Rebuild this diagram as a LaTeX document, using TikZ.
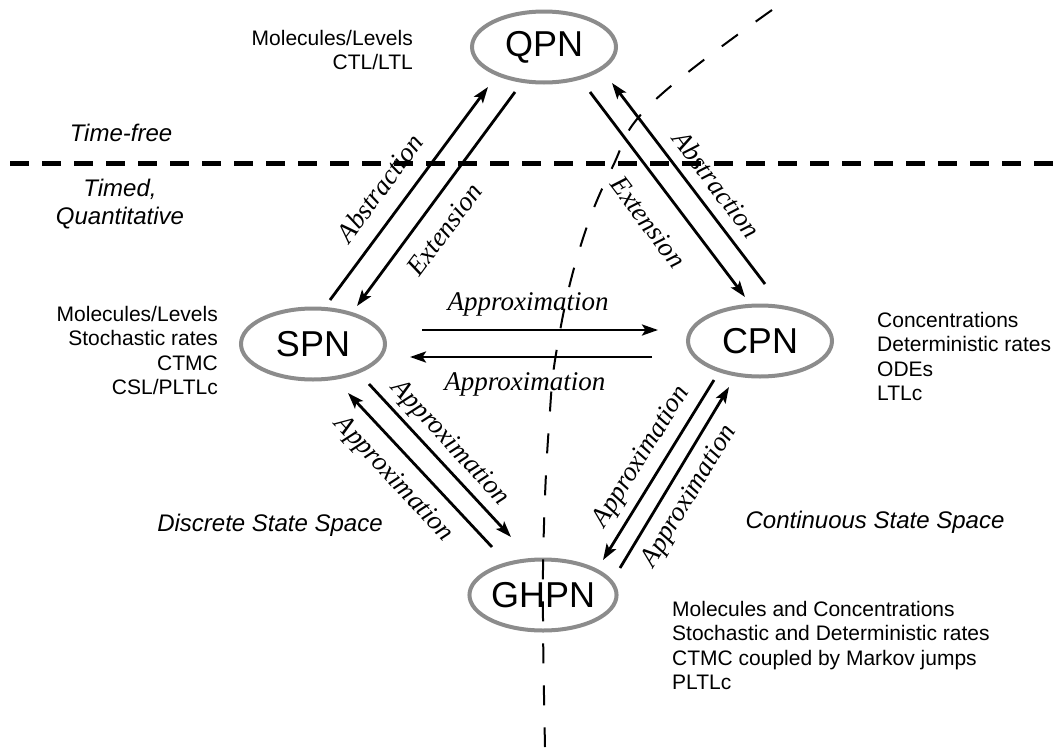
\documentclass[tikz,border=0pt]{standalone}
\usepackage{fontspec}
\setmainfont{Liberation Serif}
\setsansfont{Liberation Sans}
\usetikzlibrary{arrows.meta,shapes.geometric}
\definecolor{netgray}{HTML}{8C8C8C}
\begin{document}
\begin{tikzpicture}[x=1pt,y=-1pt,
  model/.style={ellipse, draw=netgray, line width=4pt, minimum width=144pt,
    minimum height=71pt, inner sep=0pt, font=\sffamily\fontsize{36}{40}\selectfont},
  arr/.style={line width=2.8pt, -{Stealth[length=16pt,width=11pt,inset=3.5pt]}},
  lbl/.style={sloped, inner sep=0pt, font=\itshape\fontsize{27}{30}\selectfont},
  info/.style={inner sep=0pt, font=\sffamily\fontsize{21}{24.3}\selectfont},
  region/.style={inner sep=0pt, align=center, font=\sffamily\itshape\fontsize{24}{28}\selectfont},
  timeline/.style={line width=5pt, dash pattern=on 19pt off 13pt},
  divider/.style={line width=2pt, dash pattern=on 20pt off 22pt},
]
\useasboundingbox (0,0) rectangle (1060,747);

% time-free / timed boundary
\coordinate (tl) at (10,163);
\coordinate (tr) at (1060,163);
\draw[timeline] (tl) -- (tr);

% region captions
\node[region] (tfree) at (121,133) {Time-free};
\node[region] (timed) at (120,204) {Timed,\\Quantitative};
\node[region] (disc) at (270,525) {Discrete State Space};
\node[region] (cont) at (875,522) {Continuous State Space};

% the four net classes
\node[model] (qpn)  at (544,47)  {QPN};
\node[model] (spn)  at (313,344) {SPN};
\node[model] (cpn)  at (760,341) {CPN};
\node[model] (ghpn) at (543,595) {GHPN};

% properties of each class
\node[info, align=right, anchor=north east] (qinfo) at (413,30)
  {Molecules/Levels\\CTL/LTL};
\node[info, align=right, anchor=north east] (sinfo) at (218,306)
  {Molecules/Levels\\Stochastic rates\\CTMC\\CSL/PLTLc};
\node[info, align=left, anchor=north west] (cinfo) at (877,312)
  {Concentrations\\Deterministic rates\\ODEs\\LTLc};
\node[info, align=left, anchor=north west] (ginfo) at (672,601)
  {Molecules and Concentrations\\Stochastic and Deterministic rates\\CTMC coupled by Markov jumps\\PLTLc};

% QPN <-> SPN
\draw[arr] ([shift={(17,-44)}]spn.center) --
  node[lbl, pos=0.45, yshift=27pt] {Abstraction} ([shift={(-56,40)}]qpn.center);
\draw[arr] ([shift={(-29,45)}]qpn.center) --
  node[lbl, pos=0.574, yshift=-25pt] {Extension} ([shift={(44,-38)}]spn.center);

% QPN <-> CPN
\draw[arr] ([shift={(46,45)}]qpn.center) --
  node[lbl, pos=0.54, yshift=-32pt] {Extension} ([shift={(-15,-44)}]cpn.center);
\draw[arr] ([shift={(5,-57)}]cpn.center) --
  node[lbl, pos=0.43, yshift=22pt] {Abstraction} ([shift={(68,36)}]qpn.center);

% SPN <-> CPN
\draw[arr] ([shift={(109,-14)}]spn.center) --
  node[lbl, pos=0.45, yshift=26pt] {Approximation} ([shift={(-102,-11)}]cpn.center);
\draw[arr] ([shift={(-108,16)}]cpn.center) --
  node[lbl, pos=0.525, yshift=-27pt] {Approximation} ([shift={(97,13)}]spn.center);

% SPN <-> GHPN
\draw[arr] ([shift={(56,40)}]spn.center) --
  node[lbl, pos=0.47, yshift=19pt] {Approximation} ([shift={(-32,-58)}]ghpn.center);
\draw[arr] ([shift={(-51,-48)}]ghpn.center) --
  node[lbl, pos=0.553, yshift=-26pt] {Approximation} ([shift={(35,49)}]spn.center);

% CPN <-> GHPN
\draw[arr] ([shift={(-46,39)}]cpn.center) --
  node[lbl, pos=0.49, yshift=21pt] {Approximation} ([shift={(60,-35)}]ghpn.center);
\draw[arr] ([shift={(77,-27)}]ghpn.center) --
  node[lbl, pos=0.46, yshift=-23pt] {Approximation} ([shift={(-31,46)}]cpn.center);

% discrete / continuous boundary
\draw[divider] plot[smooth, tension=0.7] coordinates
  {(772,10) (652,103) (612,168) (579,251) (557,348) (549,425) (544,525) (543,620) (545,747)};
\end{tikzpicture}
\end{document}
